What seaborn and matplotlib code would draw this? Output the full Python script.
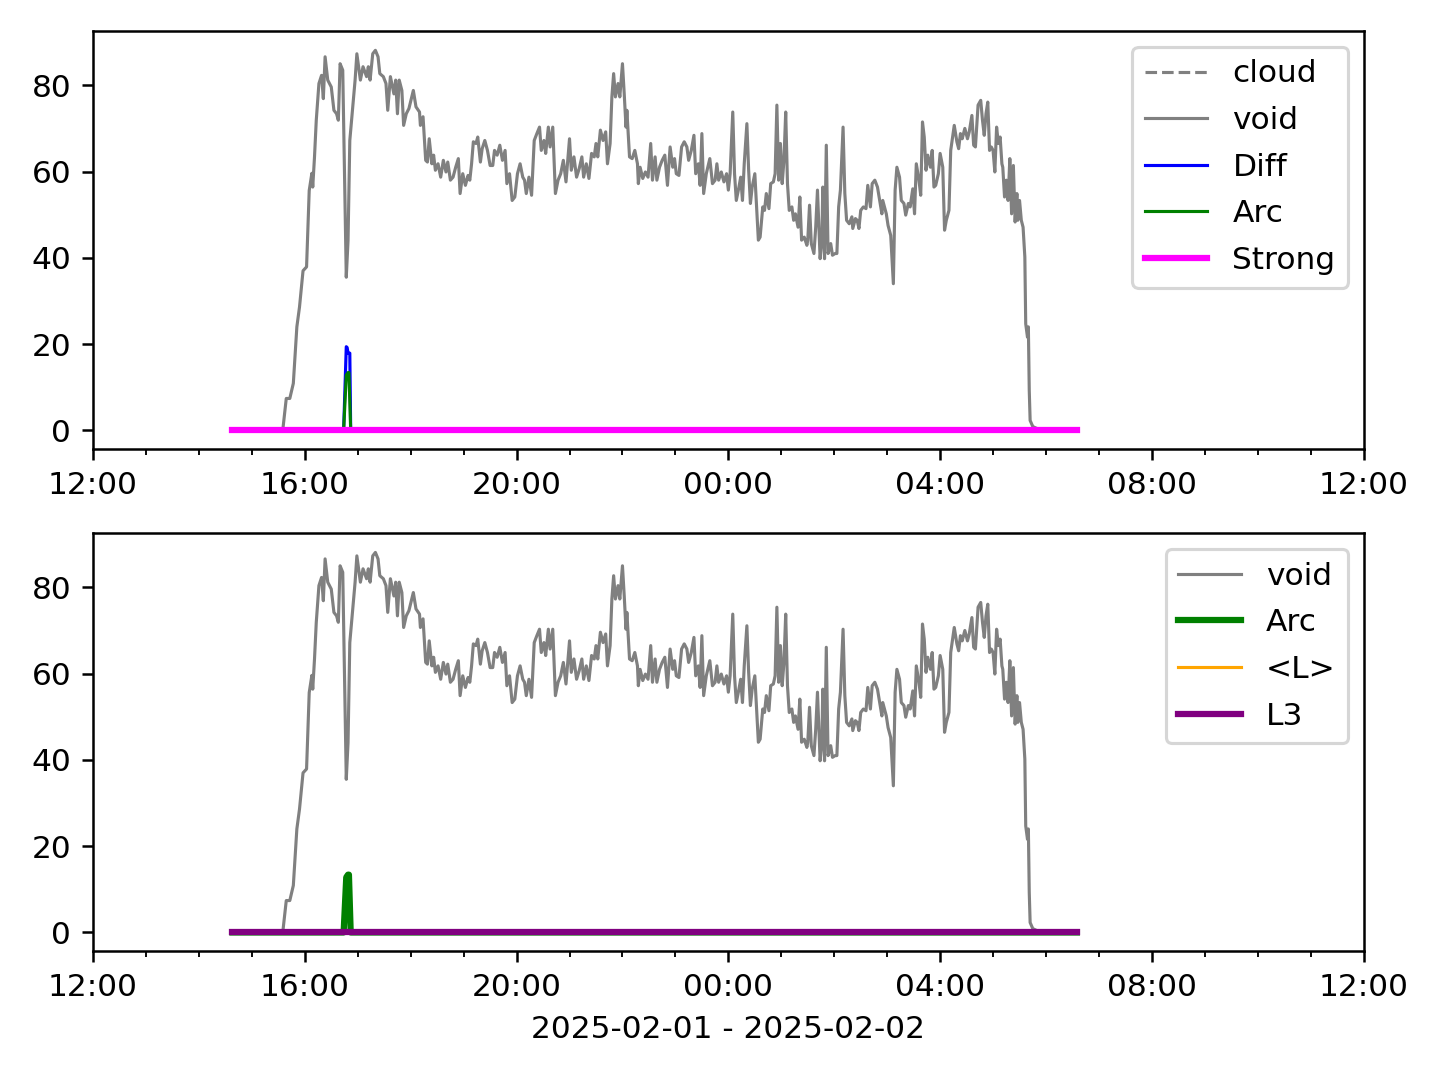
import matplotlib
matplotlib.use("Agg")
import matplotlib.pyplot as plt
import matplotlib.dates as mdates
import seaborn as sns
import pandas as pd
import numpy as np

# ---- data (minutes after 2025-02-01 12:00) ----
void_minutes = [158,215,219,223,227,231,234,238,242,245,248,249,251,253,256,259,261,263,266,270,273,276,278,280,283,285,287,289,291,294,297,299,300,303,306,310,312,314,317,320,323,325,329,332,334,337,341,343,345,347,
350,352,355,358,363,366,370,371,374,377,379,381,384,386,388,391,394,397,400,402,405,408,411,414,416,419,422,425,427,429,431,434,436,439,441,444,447,450,453,455,458,461,464,467,469,472,475,478,481,484,487,489,491,494,497,
500,503,506,508,511,513,516,518,521,524,527,530,533,536,540,542,545,548,551,554,556,559,562,565,568,570,572,575,578,581,583,586,588,590,592,595,597,600,602,604,605,608,611,614,617,618,620,623,626,629,632,634,637,639,642,645,648,651,654,657,659,661,664,
667,670,673,675,678,681,683,686,688,690,692,695,699,702,705,707,709,712,715,718,720,722,725,727,729,732,734,736,738,741,743,745,747,750,752,754,756,759,761,763,766,768,771,773,775,777,779,781,783,785,787,789,792,794,796,799,801,803,806,809,810,
812,814,817,819,821,824,826,827,829,831,833,836,838,841,843,845,847,850,852,854,857,860,861,864,866,868,870,873,876,878,881,883,886,889,892,894,895,899,901,904,907,909,911,914,916,919,921,924,926,929,931,933,936,938,940,942,944,946,949,951,953,955,958,960,963,965,967,970,972,976,979,981,
983,985,988,991,993,996,998,1000,1003,1006,1008,1010,1012,1014,1016,1018,1020,1022,1024,1026,1028,1030,1031,1033,1035,1037,1039,1041,1043,1045,1047,1048,1050,1052,1054,1056,1057,1059,1060,1061,1062,1065,1069,1073,1115]
void_values = [0,0,7.4,7.4,10.9,24,28.6,37,37.9,55.6,59.6,56.4,63.4,71.9,80.4,82.3,76.9,86.6,81.2,79.6,74.2,73.4,71.9,85,83.5,59.5,35.5,44,67.2,74.2,81.2,87.3,85.8,81.2,84.3,82,84.3,81.2,87.3,88.1,86.6,82.7,82,80.4,74.2,82,78,81.2,73.4,81.2,
78.8,70.7,73.4,74.6,78.8,75,73.8,70.7,72.7,62.6,62.2,67.6,61.8,63.8,60.3,61.8,58.7,62.6,59.9,62.2,58,58.7,61,63,54.9,59.5,56.8,59.1,58,61.8,66.9,66.5,68,62.2,65.3,67.2,64.9,61.4,61.4,64.9,63.8,66.1,62.6,64.9,57.2,59.5,53.3,54.1,59.5,61.8,58.7,58,54.9,58.7,54.5,
67.2,68.8,70.3,64.9,67.2,64.2,70.3,65.7,70.3,54.9,58,59.5,62.6,57.6,67.6,60.3,63.4,58.7,60.7,63.4,58.7,61.8,58.4,64.2,63.4,66.5,63.4,69.6,67.2,69.2,61.8,66.5,77.3,82.7,77.3,80.4,77.3,85,78,70.3,74.2,63.4,63,64.9,61.8,57.2,61,58.4,59.9,58.7,66.5,58,63.4,58,61,62.6,63.8,56.8,65.7,61,63,59.5,59.1,
65.7,66.9,65.7,62.6,64.9,68.4,59.5,61.8,56.8,68.8,54.9,59.5,63,57.2,58,61.8,58,59.9,57.6,59.5,55.7,59.5,73.8,59.5,53.3,56.4,58.7,53.3,61.8,71.1,60.3,52.6,56.4,59.5,51.8,44.1,44.8,51.8,51,54.9,51.4,57.2,57.6,59.5,75.4,58,66.5,57.2,62.6,73.8,57.2,51,51.8,48.7,50.2,47.1,54.1,44.1,44.8,42.9,44.1,
52.2,43.3,41,47.1,55.7,39.8,44.1,56.4,39.8,66.1,41,43.3,40.6,41,41,51.8,55.7,70.3,54.9,48.7,47.9,49.5,46.8,49.1,48.7,46.8,51,51.8,51.4,56.8,51.8,57.2,58,56.4,52.6,50.2,53.3,50.2,47.5,45.2,34,55.7,61,58.7,53.3,52.6,49.9,52.6,51.8,56,50.2,61.8,58,54.5,71.5,68,60.3,63.8,61,64.9,56.4,56.8,59.5,64.2,61,46.4,48.7,51,64.9,70.7,66.9,65.3,
68.8,67.6,70,67.6,69.2,73,66.1,65.7,75.4,76.5,71.9,68.4,73.4,76.1,64.9,65.7,64.9,59.9,70.3,66.5,68,61.8,61,54.1,58,53.3,63,50.2,61.4,48.3,54.9,48.7,53.3,48.7,47.1,40.2,24.7,21.6,24,9.3,2.3,0.9,0.5,0.2,0]

cloud_minutes = []
cloud_values = []

diff_minutes = [158, 284, 287, 288, 289, 291, 292, 1115]
diff_values = [0, 0, 19.4, 19.2, 17.9, 17.9, 0, 0]

arc_minutes = [158, 284, 287, 289, 290, 292, 1115]
arc_values = [0, 0, 12.8, 13.4, 13.4, 0, 0]

flat_minutes = [158, 1115]
strong_values = [0, 0]
lavg_values = [0, 0]
l3_values = [0, 0]

x_start = "2025-02-01 12:00"
x_end = "2025-02-02 12:00"
xlabel_text = "2025-02-01 - 2025-02-02"

base = pd.Timestamp(x_start)
def to_time(mins):
    return base + pd.to_timedelta(np.asarray(mins, dtype=float), unit="min")

void_t = to_time(void_minutes)
diff_t = to_time(diff_minutes)
arc_t = to_time(arc_minutes)
flat_t = to_time(flat_minutes)

fig, (ax1, ax2) = plt.subplots(2, 1, figsize=(6.4, 4.8), dpi=225)
fig.subplots_adjust(left=0.0646, right=0.947, top=0.971, bottom=0.119, hspace=0.201)

# top panel
ax1.plot(to_time(cloud_minutes), cloud_values, color="gray", linestyle="--", linewidth=1, label="cloud")
sns.lineplot(x=void_t, y=void_values, ax=ax1, color="gray", linewidth=1, label="void", estimator=None)
sns.lineplot(x=diff_t, y=diff_values, ax=ax1, color="blue", linewidth=1, label="Diff", estimator=None)
sns.lineplot(x=arc_t, y=arc_values, ax=ax1, color="green", linewidth=1, label="Arc", estimator=None)
sns.lineplot(x=flat_t, y=strong_values, ax=ax1, color="magenta", linewidth=2, label="Strong", estimator=None)

# bottom panel
sns.lineplot(x=void_t, y=void_values, ax=ax2, color="gray", linewidth=1, label="void", estimator=None)
sns.lineplot(x=arc_t, y=arc_values, ax=ax2, color="green", linewidth=2, label="Arc", estimator=None)
sns.lineplot(x=flat_t, y=lavg_values, ax=ax2, color="orange", linewidth=1, label="<L>", estimator=None)
sns.lineplot(x=flat_t, y=l3_values, ax=ax2, color="purple", linewidth=2, label="L3", estimator=None)

for ax in (ax1, ax2):
    ax.set_xlim(pd.Timestamp(x_start), pd.Timestamp(x_end))
    ax.xaxis.set_major_locator(mdates.HourLocator(byhour=[0, 4, 8, 12, 16, 20]))
    ax.xaxis.set_minor_locator(mdates.HourLocator())
    ax.xaxis.set_major_formatter(mdates.DateFormatter("%H:%M"))
    ax.set_ylabel("")
    ax.set_xlabel("")
    ax.legend(loc="upper right", labelspacing=0.565)

ax2.set_xlabel(xlabel_text)

fig.savefig("out.png", dpi=225)
